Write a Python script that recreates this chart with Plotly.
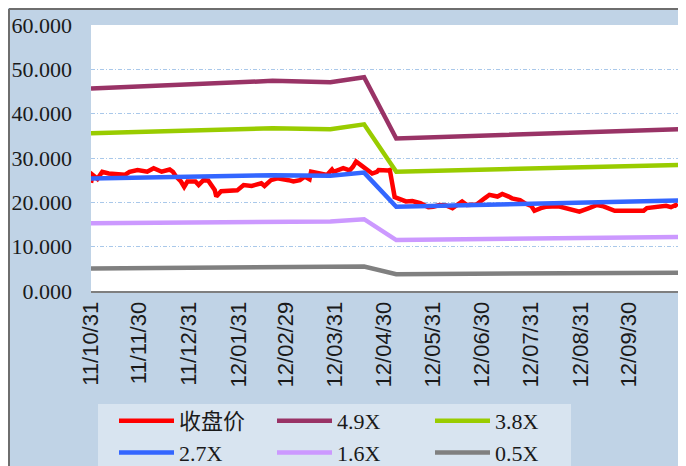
import plotly.graph_objects as go

price_dates = [
    "2011-10-31", "2011-11-01", "2011-11-04", "2011-11-07", "2011-11-11", "2011-11-21",
    "2011-11-24", "2011-11-29", "2011-12-05", "2011-12-09", "2011-12-14", "2011-12-19",
    "2011-12-21", "2011-12-23", "2011-12-26", "2011-12-28", "2011-12-30", "2012-01-04",
    "2012-01-06", "2012-01-09", "2012-01-12", "2012-01-16", "2012-01-17", "2012-01-19",
    "2012-01-20", "2012-01-30", "2012-02-03", "2012-02-08", "2012-02-14", "2012-02-16",
    "2012-02-20", "2012-02-24", "2012-02-29", "2012-03-02", "2012-03-05", "2012-03-09",
    "2012-03-12", "2012-03-15", "2012-03-16", "2012-03-21", "2012-03-26", "2012-03-29",
    "2012-03-30", "2012-04-05", "2012-04-09", "2012-04-11", "2012-04-13", "2012-04-16",
    "2012-04-19", "2012-04-23", "2012-04-26", "2012-04-27", "2012-05-03", "2012-05-04",
    "2012-05-07", "2012-05-09", "2012-05-14", "2012-05-18", "2012-05-23", "2012-05-28",
    "2012-05-31", "2012-06-04", "2012-06-08", "2012-06-12", "2012-06-15", "2012-06-18",
    "2012-06-21", "2012-06-27", "2012-07-02", "2012-07-05", "2012-07-10", "2012-07-13",
    "2012-07-17", "2012-07-19", "2012-07-24", "2012-07-27", "2012-07-31", "2012-08-02",
    "2012-08-06", "2012-08-09", "2012-08-17", "2012-08-24", "2012-08-30", "2012-09-05",
    "2012-09-10", "2012-09-14", "2012-09-21", "2012-09-28", "2012-10-09", "2012-10-11",
    "2012-10-17", "2012-10-23", "2012-10-26", "2012-10-29", "2012-10-30",
]
price_values = [
    24.4, 26.2, 25.3, 26.9, 26.5, 26.2,
    26.9, 27.3, 26.9, 27.7, 26.9, 27.4,
    26.9, 25.8, 24.7, 23.5, 24.7, 24.7,
    23.9, 25.0, 24.9, 22.8, 21.3, 22.2,
    22.5, 22.7, 23.9, 23.7, 24.3, 23.7,
    25.0, 25.4, 25.2, 25.0, 24.7, 25.0,
    25.8, 25.2, 26.9, 26.5, 26.2, 27.4,
    26.9, 27.7, 27.2, 28.0, 29.2, 28.4,
    27.7, 26.5, 26.9, 27.3, 27.2, 27.3,
    21.2, 20.9, 20.2, 20.3, 19.8, 18.9,
    19.0, 19.4, 19.3, 18.7, 19.6, 20.2,
    19.4, 19.5, 20.9, 21.7, 21.3, 21.9,
    21.3, 20.9, 20.5, 19.8, 19.2, 18.1,
    18.7, 19.0, 19.1, 18.4, 17.9, 18.7,
    19.4, 19.1, 18.1, 18.1, 18.1, 18.7,
    18.9, 19.2, 18.9, 19.4, 19.0,
]

band_dates = ["2011-10-31", "2012-02-21", "2012-03-28", "2012-04-18", "2012-05-08", "2012-10-31"]
band_49 = [45.7, 47.4, 47.1, 48.2, 34.4, 36.5]
band_38 = [35.6, 36.7, 36.5, 37.6, 26.9, 28.4]
band_27 = [25.4, 26.1, 26.0, 26.7, 19.0, 20.4]
band_16 = [15.3, 15.7, 15.7, 16.2, 11.5, 12.2]
band_05 = [5.1, 5.3, 5.3, 5.5, 3.8, 4.1]

tick_dates = ["2011-10-31", "2011-11-30", "2011-12-31", "2012-01-31", "2012-02-29", "2012-03-31",
              "2012-04-30", "2012-05-31", "2012-06-30", "2012-07-31", "2012-08-31", "2012-09-30"]
tick_labels = ["11/10/31", "11/11/30", "11/12/31", "12/01/31", "12/02/29", "12/03/31",
               "12/04/30", "12/05/31", "12/06/30", "12/07/31", "12/08/31", "12/09/30"]

series = [
    ("收盘价", price_dates, price_values, "#FF0000"),
    ("4.9X", band_dates, band_49, "#993366"),
    ("3.8X", band_dates, band_38, "#99CC00"),
    ("2.7X", band_dates, band_27, "#3366FF"),
    ("1.6X", band_dates, band_16, "#CC99FF"),
    ("0.5X", band_dates, band_05, "#808080"),
]

fig = go.Figure()
for name, xs, ys, color in series:
    fig.add_trace(go.Scatter(x=xs, y=ys, name=name, mode="lines",
                             line=dict(color=color, width=4.5)))

# page is offset by the 8px body margin
W, H = 686, 466
L, R, T, B = 83, 15, 17, 183
pw, ph = W - L - R, H - T - B
OFF = 8

def px(x):  # page pixel -> paper fraction
    return (x - OFF - L) / pw

def py(y):
    return (H - B - (y - OFF)) / ph

bg = "#C0D3E6"
serif = "Liberation Serif, Noto Sans CJK SC, serif"

shapes = [
    dict(type="line", xref="paper", yref="paper", x0=px(9), x1=px(W + 20), y0=py(9), y1=py(9),
         line=dict(color="#6E6E6E", width=2), layer="above"),
    dict(type="line", xref="paper", yref="paper", x0=px(9), x1=px(9), y0=py(9), y1=py(H + 20),
         line=dict(color="#6E6E6E", width=2), layer="above"),
    dict(type="rect", xref="paper", yref="paper", x0=px(98), x1=px(571), y0=py(404), y1=py(H + 20),
         fillcolor="#D8E4F0", line=dict(width=0), layer="below"),
]

fig.update_layout(
    width=W, height=H,
    margin=dict(l=L, r=R, t=T, b=B, autoexpand=False),
    paper_bgcolor=bg, plot_bgcolor="white",
    shapes=shapes,
    showlegend=True,
    legend=dict(orientation="h", x=px(114), y=py(400), xanchor="left", yanchor="top",
                bgcolor="rgba(0,0,0,0)", borderwidth=0, entrywidth=88, entrywidthmode="pixels",
                itemwidth=55, font=dict(family=serif, size=22, color="#1A1A1A"),
                traceorder="normal"),
    xaxis=dict(type="date", range=["2011-10-31", "2012-10-31"], tickmode="array",
               tickvals=tick_dates, ticktext=tick_labels, tickangle=-90,
               tickfont=dict(family="Liberation Sans, Arial, sans-serif", size=22, color="#1A1A1A"),
               showgrid=False, showline=True, linecolor="#7F7F7F", linewidth=2,
               ticks="", zeroline=False),
    yaxis=dict(range=[0, 60], dtick=10, tickformat=".3f",
               tickfont=dict(family=serif, size=22, color="#1A1A1A"),
               showgrid=True, gridcolor="#A9C8EA", gridwidth=1, griddash="4px,2px,1px,2px",
               zeroline=False, showline=False, ticks="", ticklabelstandoff=18),
)

fig.write_html("out.html")
